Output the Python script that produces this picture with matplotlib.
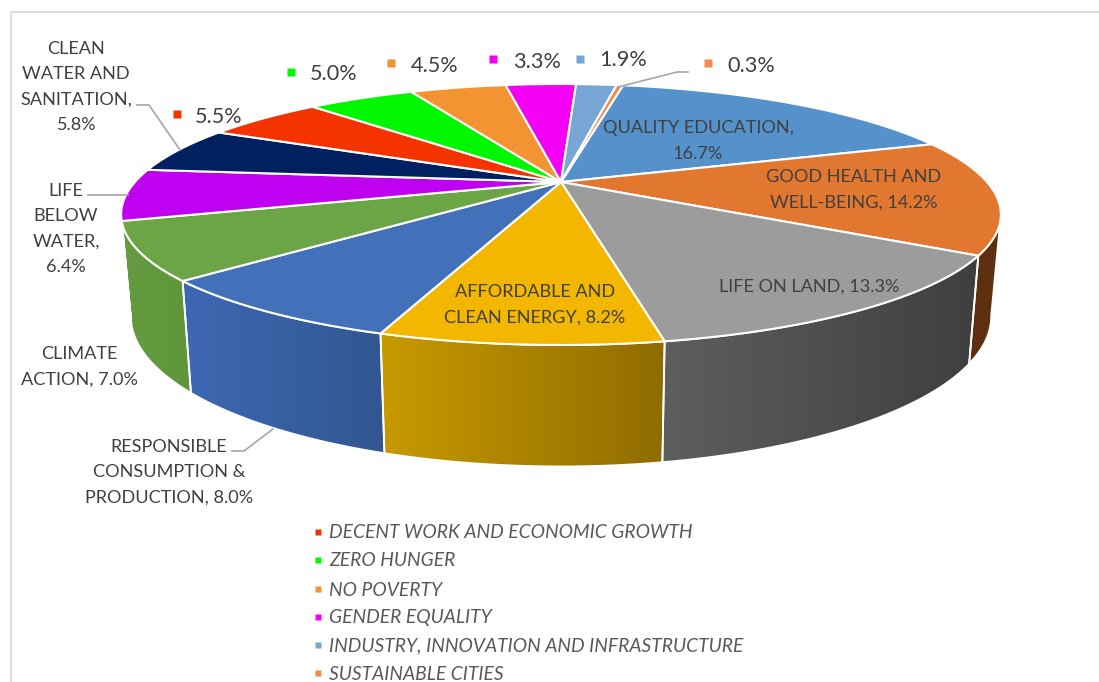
# -*- coding: utf-8 -*-
"""3D-look pie of SDG shares, drawn in pixel coords with a perspective circle."""
import numpy as np
import matplotlib; matplotlib.use("Agg")
import matplotlib.pyplot as plt
from matplotlib.colors import to_rgb, LinearSegmentedColormap
from matplotlib.patches import Polygon

plt.rcParams['font.family'] = ['Lato', 'DejaVu Sans']

categories = ["QUALITY EDUCATION", "GOOD HEALTH AND WELL-BEING", "LIFE ON LAND", "AFFORDABLE AND CLEAN ENERGY",
              "RESPONSIBLE CONSUMPTION & PRODUCTION", "CLIMATE ACTION", "LIFE BELOW WATER", "CLEAN WATER AND SANITATION",
              "DECENT WORK AND ECONOMIC GROWTH", "ZERO HUNGER", "NO POVERTY", "GENDER EQUALITY",
              "INDUSTRY, INNOVATION AND INFRASTRUCTURE", "SUSTAINABLE CITIES"]
values = [16.7, 14.2, 13.3, 8.2, 8.0, 7.0, 6.4, 5.8, 5.5, 5.0, 4.5, 3.3, 1.9, 0.3]
top_colors = ["#5591ca", "#e2772f", "#9c9c9c", "#f4b700", "#4270b9", "#6ba545", "#c000f0",
              "#002060", "#f53300", "#00f700", "#f39332", "#f400f4", "#77a6d5", "#ee8d4e"]
# side wall gradient, left to right
wall_left = ["#3a6a98", "#5e2f10", "#5e5e5e", "#c89a00", "#3e68b4", "#659c40", "#8000a0",
             "#001540", "#a02000", "#00a000", "#a06020", "#a000a0", "#5080a0", "#a06030"]
wall_right = ["#3a6a98", "#5e2f10", "#3f3f3f", "#8f6c00", "#315690", "#5f953b", "#8000a0",
              "#001540", "#a02000", "#00a000", "#a06020", "#a000a0", "#5080a0", "#a06030"]

inside_labels = ["QUALITY EDUCATION,\n16.7%", "GOOD HEALTH AND\nWELL-BEING, 14.2%", "LIFE ON LAND, 13.3%",
                 "AFFORDABLE AND\nCLEAN ENERGY, 8.2%"]
inside_xy = [(698, 141), (854, 190), (809, 287), (535, 305)]
outside_labels = ["RESPONSIBLE\nCONSUMPTION &\nPRODUCTION, 8.0%", "CLIMATE\nACTION, 7.0%", "LIFE\nBELOW\nWATER,\n6.4%",
                  "CLEAN\nWATER AND\nSANITATION,\n5.8%"]
outside_xy = [(169, 472), (79, 367), (66, 229), (76, 87)]
small_labels = ["5.5%", "5.0%", "4.5%", "3.3%", "1.9%", "0.3%"]
small_marker_xy = [(177, 114), (291, 72), (391, 63), (493, 59), (580, 59), (708, 63)]
small_text_x = [195, 310, 411, 513, 599, 727]
small_text_y = [117, 74, 66, 62, 60, 66]
legend_y = [532, 560, 589, 617, 645, 673]
leaders = [[(137, 105), (149, 105), (180, 150)], [(88, 195), (128, 195)],
           [(232, 451), (244, 451), (273, 429)], [(618, 87), (677, 72), (688, 72)]]

CX, CY = 561, 182
A, B, K = 426, 122.4, 0.249
START = 10.45
XS, YS, YOFF = 0.978, 1.15, 97


def project(t):
    r = np.radians(t)
    v = -np.cos(r)
    d = 1 - K * v
    return A * np.sin(r) / d, B * v / d


fig = plt.figure(figsize=(10.99, 6.82), dpi=100)
ax = fig.add_axes([0, 0, 1, 1])

cum = START + np.concatenate([[0], np.cumsum(values)]) * 360 / sum(values)

# silhouette limits of the wall, where the rim is widest
tt = np.linspace(0, 360, 3601)
xx, _ = project(tt)
t_right, t_left = tt[np.argmax(xx)], tt[np.argmin(xx)]

# walls
for i in range(len(values)):
    a, b = max(cum[i], t_right), min(cum[i + 1], t_left)
    if b <= a:
        continue
    t = np.linspace(a, b, 80)
    x, y = project(t)
    tx, ty = CX + x, CY + y
    bx, by = CX + x * XS, CY + y * YS + YOFF
    pts = np.r_[np.c_[tx, ty], np.c_[bx, by][::-1]]
    poly = Polygon(pts, closed=True, fc="none", ec="none", transform=ax.transData)
    ax.add_patch(poly)
    cmap = LinearSegmentedColormap.from_list("w", [to_rgb(wall_left[i]), to_rgb(wall_right[i])])
    im = ax.imshow(np.linspace(0, 1, 256).reshape(1, -1), cmap=cmap, aspect="auto", zorder=1,
                   extent=(pts[:, 0].min(), pts[:, 0].max(), pts[:, 1].max(), pts[:, 1].min()))
    im.set_clip_path(poly)
    ax.add_patch(Polygon(pts, closed=True, fc="none", ec="white", lw=1.3, zorder=2))

# top face
for i in range(len(values)):
    x, y = project(np.linspace(cum[i], cum[i + 1], 80))
    pts = np.r_[[[CX, CY]], np.c_[CX + x, CY + y]]
    ax.add_patch(Polygon(pts, closed=True, fc=top_colors[i], ec="white", lw=1.5, zorder=3))

for pts in leaders:
    p = np.array(pts)
    ax.plot(p[:, 0], p[:, 1], color="#a6a6a6", lw=1.2, zorder=4)

fs = 13.1
for s, (x, y) in zip(inside_labels, inside_xy):
    ax.text(x, y, s, ha="center", va="center", fontsize=fs, color="#404040", linespacing=1.72, zorder=5)
for s, (x, y) in zip(outside_labels, outside_xy):
    ax.text(x, y, s, ha="center", va="center", fontsize=fs, color="#404040", linespacing=1.72, zorder=5)

# data labels with a legend key beside them
small_cols = top_colors[8:]
for s, (mx, my), tx, ty, c in zip(small_labels, small_marker_xy, small_text_x, small_text_y, small_cols):
    ax.plot([mx], [my], "s", ms=5.5, color=c, mec="none", zorder=5)
    ax.text(tx, ty, s, ha="left", va="center", fontsize=15.6, color="#404040", zorder=5)

for name, y, c in zip(categories[8:], legend_y, small_cols):
    ax.plot([318], [y], "s", ms=5, color=c, mec="none", zorder=5)
    ax.text(329, y + 1, name, ha="left", va="center", fontsize=13.9, style="italic", color="#595959", zorder=5)

# chart frame
ax.plot([1099, 11, 11], [11.5, 11.5, 682], color="#d9d9d9", lw=1.2, zorder=0)

ax.set_xlim(0, 1099); ax.set_ylim(682, 0); ax.axis("off")
fig.savefig("out.png", dpi=100, facecolor="white")
